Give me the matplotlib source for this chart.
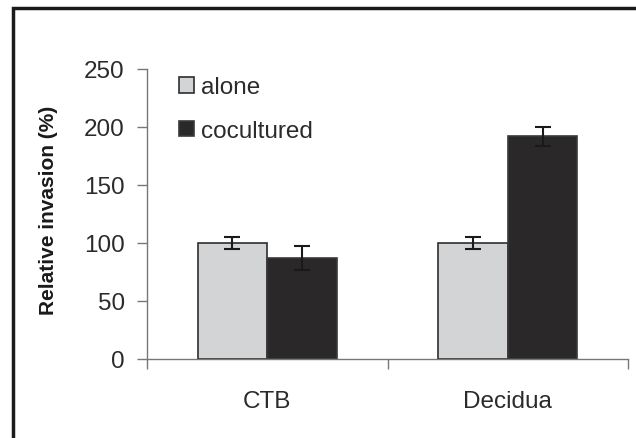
import numpy as np
import matplotlib
matplotlib.use("Agg")
import matplotlib.pyplot as plt
from matplotlib.patches import Rectangle

categories = ["CTB", "Decidua"]
alone = [100, 100]
alone_err = [5, 5]
cocultured = [87, 192]
cocultured_err = [10, 8]
yticks = [0, 50, 100, 150, 200, 250]

plt.rcParams['font.family'] = ['Liberation Sans', 'DejaVu Sans']

fig = plt.figure(figsize=(6.36, 4.39), dpi=100)
ax = fig.add_axes([147 / 636, 79 / 439, 481 / 636, 290 / 439])

x = np.arange(len(categories))
w = 0.29
ax.bar(x - w / 2, alone, w, color='#d3d4d6', edgecolor='#2e2e2e', linewidth=1.2,
       label='alone', zorder=2)
ax.bar(x + w / 2, cocultured, w, color='#2a2829', edgecolor='#3a3a3a', linewidth=1.2,
       label='cocultured', zorder=2)
ax.errorbar(x - w / 2, alone, yerr=alone_err, fmt='none', ecolor='#1a1a1a',
            elinewidth=1.5, capsize=5.5, capthick=1.5, zorder=3)
ax.errorbar(x + w / 2, cocultured, yerr=cocultured_err, fmt='none', ecolor='#1a1a1a',
            elinewidth=1.5, capsize=5.5, capthick=1.5, zorder=3)

ax.set_xlim(-0.5, 1.5)
ax.set_ylim(0, 250)
ax.set_yticks(yticks)
ax.set_xticks([-0.5, 0.5, 1.5])
ax.set_xticklabels([])
ax.set_xticks(x, minor=True)
ax.set_xticklabels(categories, minor=True)
ax.tick_params(axis='x', which='minor', length=0, pad=22, labelsize=17.5, labelcolor='#2b2b2b')
ax.tick_params(axis='x', which='major', length=7, width=1, color='#777777', direction='out')
ax.tick_params(axis='y', length=7, width=1, color='#777777', pad=9,
               labelsize=17.5, labelcolor='#2b2b2b')

for s in ['top', 'right']:
    ax.spines[s].set_visible(False)
for s in ['left', 'bottom']:
    ax.spines[s].set_color('#777777')
    ax.spines[s].set_linewidth(1)

ax.set_ylabel('Relative invasion (%)', fontsize=15, fontweight='bold', color='#1a1a1a')
ax.yaxis.set_label_coords(-0.185, 0.517)

ax.legend(loc='upper left', bbox_to_anchor=(0.022, 1.05), frameon=False, fontsize=17.5,
          handlelength=0.6, handleheight=0.6, handletextpad=0.3, labelspacing=0.9,
          labelcolor='#2b2b2b')

fig.patches.append(Rectangle((13 / 636, -0.2), 1.2, (430 / 439) + 0.2, fill=False,
                             edgecolor='#1a1a1a', linewidth=2.5,
                             transform=fig.transFigure, figure=fig))

fig.savefig('out.png', dpi=100)
